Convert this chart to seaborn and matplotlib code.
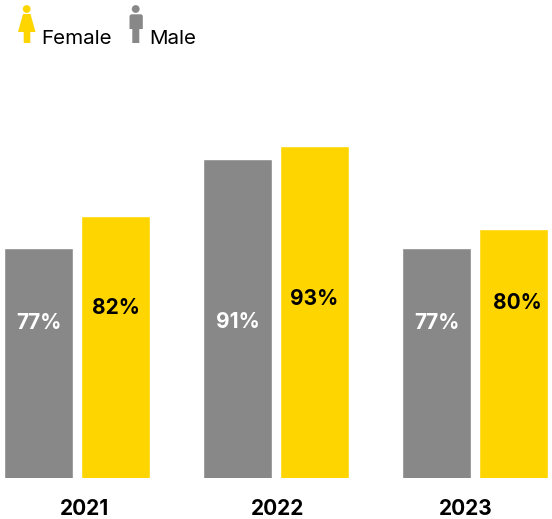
import matplotlib
matplotlib.use("Agg")
import matplotlib.pyplot as plt
import matplotlib.patches as mpatches
from matplotlib.transforms import Affine2D, ScaledTranslation
import pandas as pd
import seaborn as sns

years = ["2021", "2022", "2023"]
male = [77, 91, 77]
female = [82, 93, 80]

GREY = "#888888"
YELLOW = "#FFD500"
W, H = 552, 519

sns.set_theme(style="white")
plt.rcParams["font.family"] = ["Inter", "DejaVu Sans"]

df = pd.DataFrame({
    "year": years * 2,
    "group": ["Male"] * 3 + ["Female"] * 3,
    "value": male + female,
})

fig = plt.figure(figsize=(W / 100, H / 100), dpi=100)
fig.patch.set_facecolor("white")
ax = fig.add_axes([0, (H - 478) / H, 1.0, 478 / H])

sns.barplot(
    data=df, x="year", y="value", hue="group",
    hue_order=["Male", "Female"],
    palette={"Male": GREY, "Female": YELLOW},
    width=0.773, gap=0.105, saturation=1, legend=False, ax=ax,
)

# The value axis starts well above zero, so the differences read clearly.
ax.set_ylim(40.7, 116)
ax.set_xlim(-0.388, 2.386)
ax.set_xlabel("")
ax.set_ylabel("")
ax.set_yticks([])
sns.despine(ax=ax, left=True, bottom=True)
ax.tick_params(axis="x", length=0, pad=15)

# Year captions sit slightly off their group centres (shifts in pixels).
year_shift = [7, 1, -9]
for tick, shift in zip(ax.get_xticklabels(), year_shift):
    tick.set_fontsize(15)
    tick.set_fontweight("bold")
    tick.set_color("black")
    tick.set_transform(tick.get_transform() + ScaledTranslation(shift / 100, 0, fig.dpi_scale_trans))

# Value labels, placed by a chosen offset (in pixels) from the bar foot.
label_rise = {"Male": [155, 156, 155], "Female": [170, 179, 175]}
label_nudge = {"Male": [0, 0, 0], "Female": [0, -1, 4]}
label_color = {"Male": "white", "Female": "black"}
bars = list(ax.patches)
for i, group in enumerate(["Male", "Female"]):
    vals = male if group == "Male" else female
    for j, v in enumerate(vals):
        bar = bars[i * 3 + j]
        ax.annotate(
            f"{v}%",
            xy=(bar.get_x() + bar.get_width() / 2, 0),
            xycoords=("data", "axes fraction"),
            xytext=(label_nudge[group][j] * 72 / 100, label_rise[group][j] * 72 / 100),
            textcoords="offset points",
            ha="center", va="center",
            fontsize=15, fontweight="bold",
            color=label_color[group],
        )

# Legend icons and captions, laid out in pixels from the top-left corner.
px = Affine2D().scale(1 / W, -1 / H).translate(0, 1) + fig.transFigure
icons = [
    mpatches.Circle((26.7, 9), 3.9, color=YELLOW),
    mpatches.Polygon(
        [(23, 14), (30.5, 14), (35.5, 32), (30.3, 32), (30.3, 43), (23.7, 43), (23.7, 32), (18, 32)],
        closed=True, color=YELLOW),
    mpatches.Circle((135.7, 9), 3.9, color=GREY),
    mpatches.Polygon(
        [(131, 14.3), (141.5, 14.3), (142.8, 15.8), (142.8, 29), (139.3, 29), (139.3, 43),
         (132.3, 43), (132.3, 29), (129.5, 29), (129.5, 15.8)],
        closed=True, color=GREY),
]
for patch in icons:
    patch.set_transform(px)
    patch.set_linewidth(0)
    fig.add_artist(patch)

fig.text(41, 44, "Female", transform=px, fontsize=14.8, color="black", va="baseline")
fig.text(149, 44, "Male", transform=px, fontsize=14.8, color="black", va="baseline")

fig.savefig("out.png", dpi=100)
